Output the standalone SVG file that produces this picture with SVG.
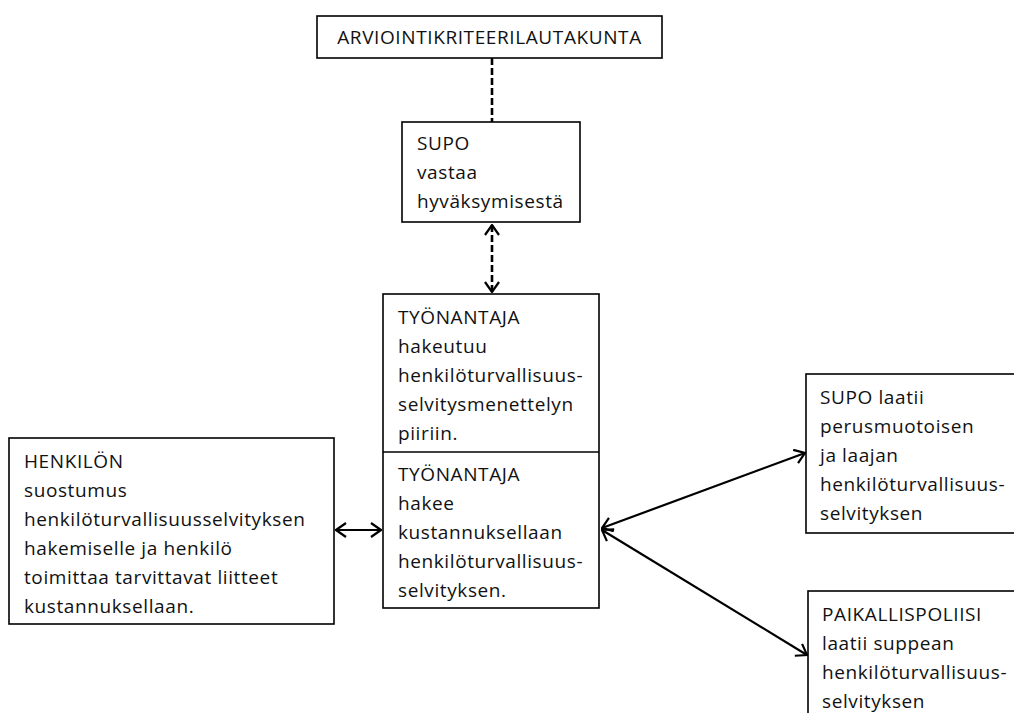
<svg xmlns="http://www.w3.org/2000/svg" width="1014" height="713" viewBox="0 0 1014 713">
<style>
.box{fill:#fff;stroke:#000;stroke-width:1.6}
.t{font-family:"Open Sans","Liberation Sans",sans-serif;font-size:19px;letter-spacing:0.6px;fill:#111}
.c{fill:none;stroke:#000;stroke-width:2.2}
.d{stroke-dasharray:7 3;stroke-width:2.6}
</style>
<defs>
<marker id="ah" viewBox="0 0 12 16" refX="11" refY="8" markerWidth="12" markerHeight="16" markerUnits="userSpaceOnUse" orient="auto-start-reverse">
<path d="M1,1 L11,8 L1,15" fill="none" stroke="#000" stroke-width="2.2"/>
</marker>
</defs>
<rect width="1014" height="713" fill="#fff"/>
<g id="connectors">
<line class="c d" x1="492" y1="58" x2="492" y2="122"/>
<line class="c d" x1="492" y1="225" x2="492" y2="292" marker-start="url(#ah)" marker-end="url(#ah)"/>
<line class="c" x1="336" y1="530" x2="381" y2="530" marker-start="url(#ah)" marker-end="url(#ah)"/>
<line class="c" x1="602" y1="528" x2="805" y2="453" marker-start="url(#ah)" marker-end="url(#ah)"/>
<line class="c" x1="602" y1="530" x2="807" y2="655" marker-start="url(#ah)" marker-end="url(#ah)"/>
</g>
<g id="n-lautakunta">
<rect class="box" x="317" y="16" width="345" height="42"/>
<text class="t" x="489.5" y="44" text-anchor="middle">ARVIOINTIKRITEERILAUTAKUNTA</text>
</g>
<g id="n-supo">
<rect class="box" x="402" y="122" width="178" height="100"/>
<text class="t" x="417" y="150">SUPO</text>
<text class="t" x="417" y="179">vastaa</text>
<text class="t" x="417" y="208">hyväksymisestä</text>
</g>
<g id="n-tyonantaja">
<rect class="box" x="383" y="294" width="216" height="314"/>
<line x1="383" y1="452" x2="599" y2="452" stroke="#000" stroke-width="1.6"/>
<text class="t" x="398" y="324">TYÖNANTAJA</text>
<text class="t" x="398" y="353">hakeutuu</text>
<text class="t" x="398" y="382">henkilöturvallisuus-</text>
<text class="t" x="398" y="411">selvitysmenettelyn</text>
<text class="t" x="398" y="440">piiriin.</text>
<text class="t" x="398" y="481">TYÖNANTAJA</text>
<text class="t" x="398" y="510">hakee</text>
<text class="t" x="398" y="539">kustannuksellaan</text>
<text class="t" x="398" y="568">henkilöturvallisuus-</text>
<text class="t" x="398" y="597">selvityksen.</text>
</g>
<g id="n-henkilo">
<rect class="box" x="9" y="438" width="325" height="186"/>
<text class="t" x="24" y="468">HENKILÖN</text>
<text class="t" x="24" y="497">suostumus</text>
<text class="t" x="24" y="526">henkilöturvallisuusselvityksen</text>
<text class="t" x="24" y="555">hakemiselle ja henkilö</text>
<text class="t" x="24" y="584">toimittaa tarvittavat liitteet</text>
<text class="t" x="24" y="613">kustannuksellaan.</text>
</g>
<g id="n-supo-laatii">
<rect class="box" x="806" y="374" width="220" height="159"/>
<text class="t" x="820" y="404">SUPO laatii</text>
<text class="t" x="820" y="433">perusmuotoisen</text>
<text class="t" x="820" y="462">ja laajan</text>
<text class="t" x="820" y="491">henkilöturvallisuus-</text>
<text class="t" x="820" y="520">selvityksen</text>
</g>
<g id="n-paikallispoliisi">
<rect class="box" x="808" y="591" width="220" height="140"/>
<text class="t" x="822" y="621">PAIKALLISPOLIISI</text>
<text class="t" x="822" y="650">laatii suppean</text>
<text class="t" x="822" y="679">henkilöturvallisuus-</text>
<text class="t" x="822" y="708">selvityksen</text>
</g>
</svg>
